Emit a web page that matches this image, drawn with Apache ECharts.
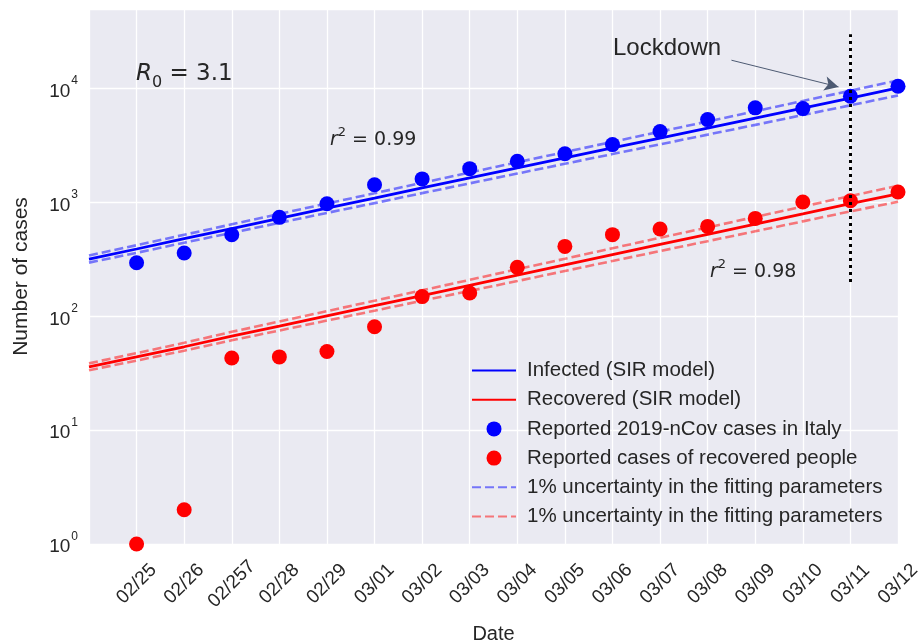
<!DOCTYPE html>
<html><head><meta charset="utf-8">
<script src="https://cdn.jsdelivr.net/npm/echarts@6/dist/echarts.min.js"></script>
<style>html,body{margin:0;padding:0;background:#fff}#c{width:921px;height:642px}</style>
</head><body><div id="c"></div><script>
// ---- data ----
const dates = ['02/25','02/26','02/257','02/28','02/29','03/01','03/02','03/03','03/04','03/05','03/06','03/07','03/08','03/09','03/10','03/11','03/12'];
const reportedInfected = [295, 360, 520, 740, 975, 1430, 1610, 1980, 2300, 2680, 3220, 4190, 5340, 6770, 6670, 8560, 10480];
const reportedRecovered = [1, 2, 43, 44, 49, 81, 149, 160, 269, 411, 521, 584, 616, 724, 1009, 1036, 1236];
// model curves sampled daily, starting one day before 02/25
const modelDay = [-1, 0, 1, 2, 3, 4, 5, 6, 7, 8, 9, 10, 11, 12, 13, 14, 15, 16];
const infectedSIR   = [318, 390, 480, 590, 725, 890, 1090, 1340, 1640, 2010, 2460, 3010, 3680, 4500, 5510, 6750, 8260, 10140];
const infectedUpper = [342, 421, 520, 642, 793, 978, 1204, 1487, 1829, 2253, 2770, 3404, 4184, 5139, 6325, 7783, 9573, 11800];
const infectedLower = [296, 361, 443, 541, 662, 809, 986, 1207, 1471, 1793, 2185, 2660, 3237, 3940, 4800, 5855, 7127, 8710];
const recoveredSIR   = [36, 44, 54, 67, 82, 101, 124, 152, 187, 230, 283, 348, 428, 525, 645, 792, 975, 1190];
const recoveredUpper = [38.6, 47.5, 58.5, 73, 90, 111, 137, 169, 209, 259, 320, 396, 489, 603, 746, 920, 1139, 1400];
const recoveredLower = [33.6, 40.8, 49.9, 61.5, 75, 91.7, 112, 137, 167, 204, 250, 306, 374, 457, 558, 682, 835, 1012];
const lockdownDay = 15;
const lockdownSpan = [200, 30000];
const arrowFrom = [12.5, 17750];
const arrowTo = [14.75, 10350];
const legendText = {
  inf: 'Infected (SIR model)',
  rec: 'Recovered (SIR model)',
  repI: 'Reported 2019-nCov cases in Italy',
  repR: 'Reported cases of recovered people',
  uncB: '1% uncertainty in the fitting parameters',
  uncR: '1% uncertainty in the fitting parameters'
};

const FONT = "'Liberation Sans', Arial, sans-serif";
const MATH = "'DejaVu Sans', sans-serif";
const TXT = '#262626';
const pairs = (xs, ys) => xs.map((x, i) => [x, ys[i]]);
const daily = ys => ys.map((v, i) => [i, v]);

const chart = echarts.init(document.getElementById('c'), null, {renderer: 'canvas'});

const dashLine = (name, color, ys) => ({
  name, type: 'line', data: pairs(modelDay, ys), symbol: 'none', z: 2,
  lineStyle: {color, width: 2.6, type: [9, 4]}, itemStyle: {color}, silent: true, animation: false
});
const lineOnly = {itemStyle: {opacity: 0}};
const mathRich = (big, small) => ({
  i: {fontFamily: MATH, fontStyle: 'italic', fontSize: big, fill: TXT, lineHeight: big + 10},
  n: {fontFamily: MATH, fontSize: big, fill: TXT, lineHeight: big + 10},
  sub: {fontFamily: MATH, fontSize: small, fill: TXT, lineHeight: small, verticalAlign: 'bottom'},
  sup: {fontFamily: MATH, fontSize: small, fill: TXT, lineHeight: small, verticalAlign: 'top'}
});

chart.setOption({
  animation: false,
  backgroundColor: '#ffffff',
  grid: {left: 89, right: 23, top: 9, bottom: 98, show: true, backgroundColor: '#eaeaf2', borderWidth: 0,
         containLabel: false, outerBoundsMode: 'none'},
  xAxis: {
    type: 'value', min: -1, max: 16, interval: 1,
    name: 'Date', nameLocation: 'middle', nameGap: 80,
    nameTextStyle: {fontFamily: FONT, fontSize: 20, color: TXT},
    axisLine: {show: false}, axisTick: {show: false},
    splitLine: {show: true, lineStyle: {color: '#ffffff', width: 1.3}},
    axisLabel: {
      rotate: 45, align: 'center', verticalAlign: 'middle', margin: 40,
      fontFamily: FONT, fontSize: 19, color: TXT,
      showMinLabel: true, showMaxLabel: true, hideOverlap: false,
      formatter: v => (v >= 0 && v < dates.length) ? dates[v] : ''
    }
  },
  yAxis: {
    type: 'log', logBase: 10, min: 1, max: 50000,
    name: 'Number of cases', nameLocation: 'middle', nameGap: 57, nameRotate: 90,
    nameTextStyle: {fontFamily: FONT, fontSize: 21, color: TXT},
    axisLine: {show: false}, axisTick: {show: false},
    minorTick: {show: false}, minorSplitLine: {show: false},
    splitLine: {show: true, lineStyle: {color: '#ffffff', width: 1.3}},
    axisLabel: {
      margin: 11, color: TXT,
      formatter: v => {
        const e = Math.log10(v);
        if (Math.abs(e - Math.round(e)) > 1e-6) return '';
        return '{b|10}{s|' + Math.round(e) + '}';
      },
      rich: {
        b: {fontFamily: FONT, fontSize: 19, color: TXT, padding: [6, 0, 0, 0]},
        s: {fontFamily: FONT, fontSize: 12, color: TXT, padding: [0, 0, 15, 1]}
      }
    }
  },
  legend: {
    orient: 'vertical', left: 466, top: 355, itemGap: 8.2, itemWidth: 44, itemHeight: 15,
    data: [
      Object.assign({name: 'inf'}, lineOnly),
      Object.assign({name: 'rec'}, lineOnly),
      {name: 'repI'}, {name: 'repR'},
      Object.assign({name: 'uncB'}, lineOnly),
      Object.assign({name: 'uncR'}, lineOnly)
    ],
    formatter: n => legendText[n],
    textStyle: {fontFamily: FONT, fontSize: 20.5, color: TXT, lineHeight: 20, padding: [0, 0, 0, 6]},
    selectedMode: false
  },
  graphic: [
    {type: 'text', left: 136, top: 63, z: 100, silent: true, style: {
      text: '{i|R}{sub|0}{n| = 3.1}', rich: mathRich(23, 16)}},
    {type: 'text', left: 330, top: 126, z: 100, silent: true, style: {
      text: '{i|r}{sup|2}{n| = 0.99}', rich: mathRich(19, 13)}},
    {type: 'text', left: 710, top: 258, z: 100, silent: true, style: {
      text: '{i|r}{sup|2}{n| = 0.98}', rich: mathRich(19, 13)}},
    {type: 'text', left: 613, top: 36, z: 100, silent: true, style: {
      text: 'Lockdown', fontFamily: FONT, fontSize: 24, fill: TXT}}
  ],
  series: [
    {
      name: 'inf', type: 'line', data: pairs(modelDay, infectedSIR), symbol: 'none', z: 3,
      lineStyle: {color: '#0000ff', width: 2.8}, itemStyle: {color: '#0000ff'}, silent: true,
      markLine: {
        silent: true, z: 6, animation: false, label: {show: false},
        data: [
          [{coord: [lockdownDay, lockdownSpan[0]], symbol: 'none', lineStyle: {color: '#000', width: 3, type: [3, 4]}},
           {coord: [lockdownDay, lockdownSpan[1]], symbol: 'none'}],
          [{coord: arrowFrom, symbol: 'none', lineStyle: {color: '#4d5a72', width: 1, type: 'solid'}},
           {coord: arrowTo, symbol: 'arrow', symbolSize: [11, 14], itemStyle: {color: '#5b6b8c'}}]
        ]
      }
    },
    {name: 'rec', type: 'line', data: pairs(modelDay, recoveredSIR), symbol: 'none', z: 3,
      lineStyle: {color: '#ff0000', width: 2.8}, itemStyle: {color: '#ff0000'}, silent: true},
    {name: 'repI', type: 'scatter', data: daily(reportedInfected), symbol: 'circle', symbolSize: 15, z: 5,
      itemStyle: {color: '#0000ff', opacity: 1}, silent: true},
    {name: 'repR', type: 'scatter', data: daily(reportedRecovered), symbol: 'circle', symbolSize: 15, z: 5,
      itemStyle: {color: '#ff0000', opacity: 1}, silent: true},
    dashLine('uncB', 'rgba(0,0,255,0.5)', infectedUpper),
    dashLine('uncB', 'rgba(0,0,255,0.5)', infectedLower),
    dashLine('uncR', 'rgba(255,0,0,0.5)', recoveredUpper),
    dashLine('uncR', 'rgba(255,0,0,0.5)', recoveredLower)
  ]
});
</script></body></html>
